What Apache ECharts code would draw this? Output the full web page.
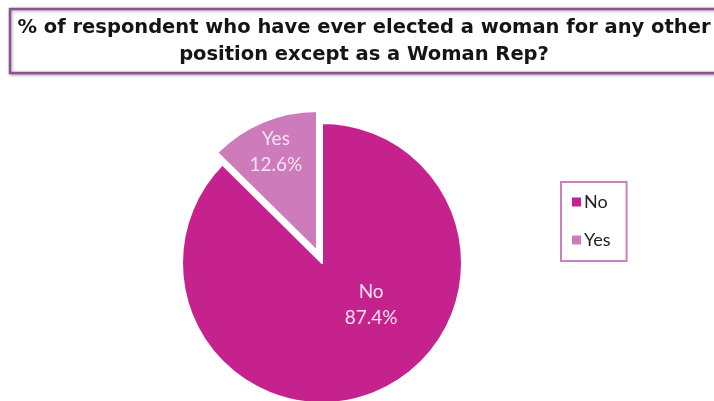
<!DOCTYPE html>
<html>
<head>
<meta charset="utf-8">
<script src="https://cdn.jsdelivr.net/npm/echarts@6/dist/echarts.min.js"></script>
<style>
  html, body { margin: 0; padding: 0; background: #ffffff; }
  #chart { width: 714px; height: 401px; }
</style>
</head>
<body>
<div id="chart"></div>
<script>
// Survey answers and their shares (%)
const categories = ['No', 'Yes'];
const shares = [87.4, 12.6];
const sliceColors = ['#C5228D', '#CD7BBB'];
const titleLines = [
  '% of respondent who have ever elected a woman for any other',
  'position except as a Woman Rep?'
];

const chart = echarts.init(document.getElementById('chart'), null, { renderer: 'canvas' });

// Nudges for the in-slice labels, per slice
const labelShift = [
  { dx: 21, dy: -25 },
  { dx: -13, dy: -32 }
];

const titleFont = 'bold 19.5px "DejaVu Sans"';

const option = {
  backgroundColor: '#ffffff',
  animation: false,
  graphic: [
    {
      type: 'rect',
      shape: { x: 10, y: 9, width: 720, height: 64 },
      style: {
        fill: '#ffffff',
        stroke: '#87578A',
        lineWidth: 2.5,
        shadowBlur: 3,
        shadowColor: 'rgba(90,60,90,0.45)',
        shadowOffsetX: 1,
        shadowOffsetY: 1
      },
      z: 1
    },
    {
      type: 'text',
      style: {
        text: titleLines[0],
        x: 364, y: 28,
        textAlign: 'center',
        textVerticalAlign: 'middle',
        fill: '#151515',
        font: titleFont
      },
      z: 2
    },
    {
      type: 'text',
      style: {
        text: titleLines[1],
        x: 364, y: 55,
        textAlign: 'center',
        textVerticalAlign: 'middle',
        fill: '#151515',
        font: titleFont
      },
      z: 2
    }
  ],
  legend: {
    orient: 'vertical',
    left: 561,
    top: 182,
    padding: [11, 16, 12, 9],
    itemGap: 20,
    itemWidth: 11,
    itemHeight: 11,
    icon: 'rect',
    borderColor: '#C983BC',
    borderWidth: 2,
    data: categories,
    textStyle: {
      color: '#222222',
      fontSize: 18,
      fontFamily: 'Lato',
      padding: [0, 0, 0, -3]
    }
  },
  series: [
    {
      type: 'pie',
      center: [322, 263],
      radius: 140,
      startAngle: 90,
      clockwise: true,
      selectedMode: 'single',
      selectedOffset: 13,
      silent: true,
      color: sliceColors,
      itemStyle: {
        borderColor: '#ffffff',
        borderWidth: 2
      },
      label: {
        show: true,
        position: 'inside',
        formatter: '{b}\n{c}%',
        color: '#F6E3F0',
        fontSize: 19,
        lineHeight: 26,
        fontFamily: 'Lato'
      },
      labelLine: { show: false },
      labelLayout: function (params) {
        return labelShift[params.dataIndex];
      },
      emphasis: { disabled: true },
      data: categories.map(function (name, i) {
        return { name: name, value: shares[i], selected: name === 'Yes' };
      })
    }
  ]
};

chart.setOption(option);
</script>
</body>
</html>
